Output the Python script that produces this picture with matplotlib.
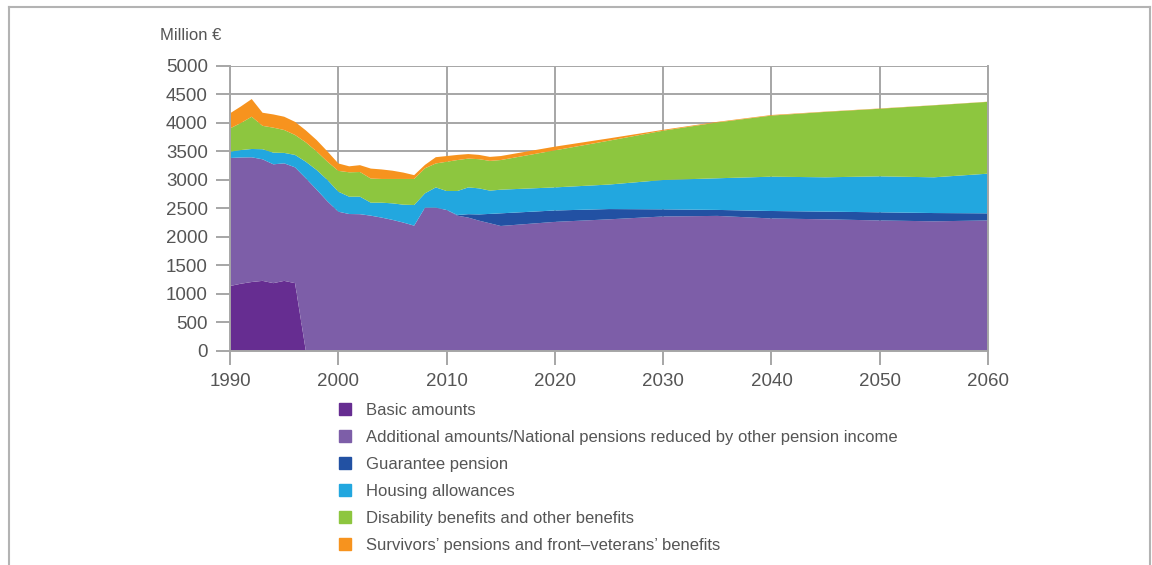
import matplotlib.pyplot as plt
from matplotlib.lines import Line2D

# Pension expenditure by benefit type, million euro (history to 2015, projection after)
years = list(range(1990, 2016)) + [2020, 2025, 2030, 2035, 2040, 2045, 2050, 2055, 2060]

basic = [1140, 1180, 1210, 1230, 1190, 1230, 1190] + [0] * 28
additional = [2246, 2215, 2188, 2133, 2085, 2062, 2032, 3030, 2830, 2625,
              2444, 2403, 2400, 2374, 2340, 2300, 2253, 2199, 2515, 2515,
              2474, 2374, 2340, 2286, 2240, 2193,
              2265, 2310, 2360, 2370, 2325, 2310, 2290, 2275, 2290]
guarantee = [0] * 21 + [12, 60, 110, 165, 222,
                        200, 180, 125, 105, 131, 135, 143, 145, 125]
housing = [111, 130, 146, 177, 205, 183, 218, 290, 345, 375,
           351, 304, 307, 228, 262, 290, 314, 362, 251, 355,
           333, 421, 470, 457, 408, 415,
           405, 430, 515, 555, 602, 602, 631, 627, 696]
disability = [408, 475, 566, 410, 438, 402, 350, 340, 325, 320,
              365, 428, 433, 423, 416, 428, 451, 457, 439, 420,
              513, 543, 505, 512, 522, 520,
              650, 770, 865, 980, 1072, 1148, 1186, 1263, 1260]
survivors = [265, 290, 310, 230, 232, 233, 230, 210, 200, 180,
             130, 105, 120, 175, 167, 145, 112, 67, 60, 110,
             100, 90, 80, 75, 70, 70,
             65, 40, 15, 10, 10, 5, 5, 3, 3]

labels = [
    "Basic amounts",
    "Additional amounts/National pensions reduced by other pension income",
    "Guarantee pension",
    "Housing allowances",
    "Disability benefits and other benefits",
    "Survivors’ pensions and front–veterans’ benefits",
]
colors = ["#662d91", "#7d5ea8", "#2251a3", "#22a7df", "#8dc63f", "#f7931e"]

plt.rcParams['font.family'] = ['Liberation Sans', 'DejaVu Sans']
text_col = "#555555"
grid_col = "#a6a6a6"

fig = plt.figure(figsize=(11.52, 5.65), dpi=100)
ax = fig.add_axes([0.1997, 0.3788, 0.6580, 0.5044])

polys = ax.stackplot(years, basic, additional, guarantee, housing, disability, survivors,
                     colors=colors, labels=labels, linewidth=0, zorder=2)

ax.set_xlim(1990, 2060)
ax.set_ylim(0, 5000)
ax.set_xticks(range(1990, 2061, 10))
ax.set_yticks(range(0, 5001, 500))
ax.grid(True, color=grid_col, linewidth=1.4, zorder=1)
ax.set_axisbelow(True)
for side in ['left', 'bottom', 'right']:
    ax.spines[side].set_color(grid_col)
    ax.spines[side].set_linewidth(1.4)
ax.spines['top'].set_visible(False)
ax.tick_params(axis='both', colors=grid_col, length=10, width=1.4,
               labelcolor=text_col, labelsize=13.5)
ax.tick_params(axis='x', pad=6)
ax.tick_params(axis='y', pad=6)

fig.text(0.139, 0.937, "Million €", fontsize=12, color=text_col, va='center')

handles = [plt.Rectangle((0, 0), 1, 1, color=c) for c in colors]
fig.legend(handles, labels, loc='upper left', bbox_to_anchor=(0.287, 0.302),
           frameon=False, fontsize=12, labelcolor=text_col,
           handlelength=0.7, handleheight=0.7, handletextpad=0.9,
           labelspacing=0.72, borderpad=0)

# thin frame around the figure
frame = dict(color="#b3b3b3", linewidth=1.5, transform=fig.transFigure)
fig.add_artist(Line2D([0.008, 0.998], [0.988, 0.988], **frame))
fig.add_artist(Line2D([0.008, 0.008], [0.0, 0.988], **frame))
fig.add_artist(Line2D([0.998, 0.998], [0.0, 0.988], **frame))

fig.savefig("out.png", dpi=100)
